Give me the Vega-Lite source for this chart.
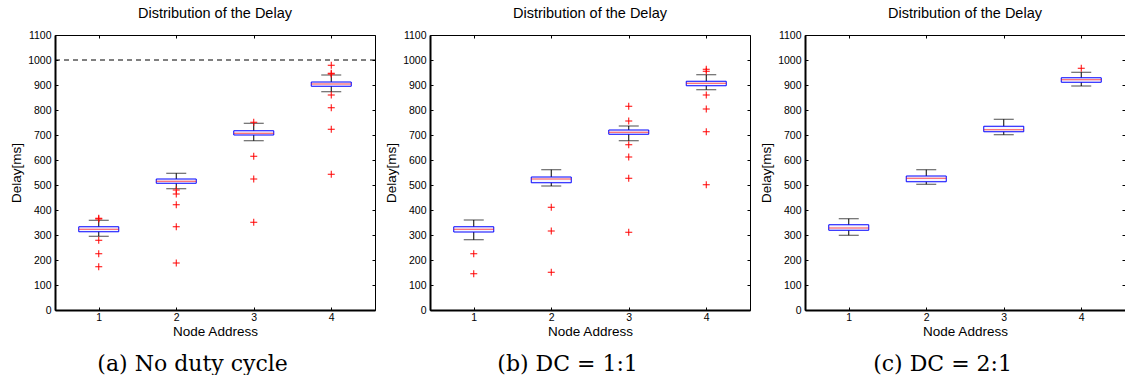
{
  "$schema": "https://vega.github.io/schema/vega-lite/v6.json",
  "padding": {"left": 9, "top": 5, "right": 0, "bottom": 0},
  "background": "white",
  "datasets": {
    "boxes": [
      {"panel": "a", "node": 1, "lo": 295, "q1": 313, "med": 323, "q3": 333, "hi": 359},
      {"panel": "a", "node": 2, "lo": 485, "q1": 507, "med": 515, "q3": 524, "hi": 547},
      {"panel": "a", "node": 3, "lo": 677, "q1": 700, "med": 707, "q3": 717, "hi": 747},
      {"panel": "a", "node": 4, "lo": 873, "q1": 895, "med": 904, "q3": 912, "hi": 940},
      {"panel": "b", "node": 1, "lo": 281, "q1": 312, "med": 323, "q3": 333, "hi": 360},
      {"panel": "b", "node": 2, "lo": 496, "q1": 509, "med": 524, "q3": 532, "hi": 561},
      {"panel": "b", "node": 3, "lo": 677, "q1": 703, "med": 711, "q3": 720, "hi": 736},
      {"panel": "b", "node": 4, "lo": 881, "q1": 897, "med": 907, "q3": 915, "hi": 941},
      {"panel": "c", "node": 1, "lo": 299, "q1": 319, "med": 328, "q3": 341, "hi": 365},
      {"panel": "c", "node": 2, "lo": 503, "q1": 513, "med": 527, "q3": 536, "hi": 561},
      {"panel": "c", "node": 3, "lo": 701, "q1": 713, "med": 721, "q3": 735, "hi": 763},
      {"panel": "c", "node": 4, "lo": 896, "q1": 911, "med": 921, "q3": 929, "hi": 951}
    ],
    "outliers": [
      {"panel": "a", "node": 1, "delay": 367}, {"panel": "a", "node": 1, "delay": 364},
      {"panel": "a", "node": 1, "delay": 279}, {"panel": "a", "node": 1, "delay": 225},
      {"panel": "a", "node": 1, "delay": 173},
      {"panel": "a", "node": 2, "delay": 480}, {"panel": "a", "node": 2, "delay": 464},
      {"panel": "a", "node": 2, "delay": 421}, {"panel": "a", "node": 2, "delay": 333},
      {"panel": "a", "node": 2, "delay": 188},
      {"panel": "a", "node": 3, "delay": 751}, {"panel": "a", "node": 3, "delay": 615},
      {"panel": "a", "node": 3, "delay": 524}, {"panel": "a", "node": 3, "delay": 351},
      {"panel": "a", "node": 4, "delay": 979}, {"panel": "a", "node": 4, "delay": 947},
      {"panel": "a", "node": 4, "delay": 944}, {"panel": "a", "node": 4, "delay": 860},
      {"panel": "a", "node": 4, "delay": 809}, {"panel": "a", "node": 4, "delay": 723},
      {"panel": "a", "node": 4, "delay": 543},
      {"panel": "b", "node": 1, "delay": 225}, {"panel": "b", "node": 1, "delay": 145},
      {"panel": "b", "node": 2, "delay": 411}, {"panel": "b", "node": 2, "delay": 316},
      {"panel": "b", "node": 2, "delay": 151},
      {"panel": "b", "node": 3, "delay": 815}, {"panel": "b", "node": 3, "delay": 756},
      {"panel": "b", "node": 3, "delay": 661}, {"panel": "b", "node": 3, "delay": 612},
      {"panel": "b", "node": 3, "delay": 527}, {"panel": "b", "node": 3, "delay": 311},
      {"panel": "b", "node": 4, "delay": 963}, {"panel": "b", "node": 4, "delay": 955},
      {"panel": "b", "node": 4, "delay": 860}, {"panel": "b", "node": 4, "delay": 804},
      {"panel": "b", "node": 4, "delay": 713}, {"panel": "b", "node": 4, "delay": 501},
      {"panel": "c", "node": 4, "delay": 967}
    ],
    "limit": [{"delay": 1000}]
  },
  "hconcat": [
    {
      "title": {"text": "(a) No duty cycle", "orient": "bottom", "font": "DejaVu Serif", "fontSize": 22, "fontWeight": "normal", "offset": 15, "anchor": "middle"},
      "vconcat": [
        {
          "width": 320, "height": 275,
          "title": {"text": "Distribution of the Delay"},
          "resolve": {"axis": {"x": "independent", "y": "independent"}},
          "layer": [
            {
              "data": {"name": "boxes"}, "transform": [{"filter": "datum.panel == 'a'"}],
              "mark": {"type": "rule", "color": "black", "strokeWidth": 1},
              "encoding": {
                "x": {"field": "node", "type": "quantitative", "scale": {"domain": [0.5, 4.5], "nice": false},
                      "axis": {"orient": "bottom", "title": "Node Address", "values": [1, 2, 3, 4], "format": "d", "tickSize": -3, "labelPadding": 5, "titlePadding": 2, "domainWidth": 2}},
                "y": {"field": "lo", "type": "quantitative", "scale": {"domain": [0, 1100], "nice": false},
                      "axis": {"orient": "left", "title": "Delay[ms]", "values": [0, 100, 200, 300, 400, 500, 600, 700, 800, 900, 1000, 1100], "format": "d", "tickSize": -3, "labelPadding": 7, "domainWidth": 2}},
                "y2": {"field": "hi"}
              }
            },
            {
              "data": {"name": "boxes"}, "transform": [{"filter": "datum.panel == 'a'"}],
              "mark": {"type": "tick", "orient": "horizontal", "size": 20, "thickness": 1, "color": "black"},
              "encoding": {
                "x": {"field": "node", "type": "quantitative", "axis": {"orient": "top", "title": null, "labels": false, "domain": false, "values": [1, 2, 3, 4], "tickSize": -3}},
                "y": {"field": "lo", "type": "quantitative", "axis": {"orient": "right", "title": null, "labels": false, "domain": false, "values": [0, 100, 200, 300, 400, 500, 600, 700, 800, 900, 1000, 1100], "tickSize": -3}}
              }
            },
            {
              "data": {"name": "boxes"}, "transform": [{"filter": "datum.panel == 'a'"}],
              "mark": {"type": "tick", "orient": "horizontal", "size": 20, "thickness": 1, "color": "black"},
              "encoding": {
                "x": {"field": "node", "type": "quantitative", "axis": null},
                "y": {"field": "hi", "type": "quantitative", "axis": null}
              }
            },
            {
              "data": {"name": "boxes"}, "transform": [{"filter": "datum.panel == 'a'"}],
              "mark": {"type": "bar", "orient": "vertical", "size": 40, "fill": "#f6f6ff", "stroke": "#0000ff", "strokeWidth": 1},
              "encoding": {
                "x": {"field": "node", "type": "quantitative", "axis": null},
                "y": {"field": "q1", "type": "quantitative", "axis": null},
                "y2": {"field": "q3"}
              }
            },
            {
              "data": {"name": "boxes"}, "transform": [{"filter": "datum.panel == 'a'"}],
              "mark": {"type": "tick", "orient": "horizontal", "size": 40, "thickness": 1, "color": "#ff0000"},
              "encoding": {
                "x": {"field": "node", "type": "quantitative", "axis": null},
                "y": {"field": "med", "type": "quantitative", "axis": null}
              }
            },
            {
              "data": {"name": "outliers"}, "transform": [{"filter": "datum.panel == 'a'"}],
              "mark": {"type": "point", "shape": "M-1,0L1,0M0,-1L0,1", "size": 49, "filled": false, "stroke": "#ff0000", "strokeWidth": 1, "opacity": 1},
              "encoding": {
                "x": {"field": "node", "type": "quantitative", "axis": null},
                "y": {"field": "delay", "type": "quantitative", "axis": null}
              }
            },
            {
              "data": {"name": "limit"},
              "mark": {"type": "rule", "color": "black", "strokeDash": [5, 4], "strokeWidth": 1},
              "encoding": {"y": {"field": "delay", "type": "quantitative", "axis": null}}
            }
          ]
        }
      ]
    },
    {
      "title": {"text": "(b) DC = 1:1", "orient": "bottom", "font": "DejaVu Serif", "fontSize": 22, "fontWeight": "normal", "offset": 15, "anchor": "middle"},
      "vconcat": [
        {
          "width": 320, "height": 275,
          "title": {"text": "Distribution of the Delay"},
          "resolve": {"axis": {"x": "independent", "y": "independent"}},
          "layer": [
            {
              "data": {"name": "boxes"}, "transform": [{"filter": "datum.panel == 'b'"}],
              "mark": {"type": "rule", "color": "black", "strokeWidth": 1},
              "encoding": {
                "x": {"field": "node", "type": "quantitative", "scale": {"domain": [0.5, 4.5], "nice": false},
                      "axis": {"orient": "bottom", "title": "Node Address", "values": [1, 2, 3, 4], "format": "d", "tickSize": -3, "labelPadding": 5, "titlePadding": 2, "domainWidth": 2}},
                "y": {"field": "lo", "type": "quantitative", "scale": {"domain": [0, 1100], "nice": false},
                      "axis": {"orient": "left", "title": "Delay[ms]", "values": [0, 100, 200, 300, 400, 500, 600, 700, 800, 900, 1000, 1100], "format": "d", "tickSize": -3, "labelPadding": 7, "domainWidth": 2}},
                "y2": {"field": "hi"}
              }
            },
            {
              "data": {"name": "boxes"}, "transform": [{"filter": "datum.panel == 'b'"}],
              "mark": {"type": "tick", "orient": "horizontal", "size": 20, "thickness": 1, "color": "black"},
              "encoding": {
                "x": {"field": "node", "type": "quantitative", "axis": {"orient": "top", "title": null, "labels": false, "domain": false, "values": [1, 2, 3, 4], "tickSize": -3}},
                "y": {"field": "lo", "type": "quantitative", "axis": {"orient": "right", "title": null, "labels": false, "domain": false, "values": [0, 100, 200, 300, 400, 500, 600, 700, 800, 900, 1000, 1100], "tickSize": -3}}
              }
            },
            {
              "data": {"name": "boxes"}, "transform": [{"filter": "datum.panel == 'b'"}],
              "mark": {"type": "tick", "orient": "horizontal", "size": 20, "thickness": 1, "color": "black"},
              "encoding": {
                "x": {"field": "node", "type": "quantitative", "axis": null},
                "y": {"field": "hi", "type": "quantitative", "axis": null}
              }
            },
            {
              "data": {"name": "boxes"}, "transform": [{"filter": "datum.panel == 'b'"}],
              "mark": {"type": "bar", "orient": "vertical", "size": 40, "fill": "#f6f6ff", "stroke": "#0000ff", "strokeWidth": 1},
              "encoding": {
                "x": {"field": "node", "type": "quantitative", "axis": null},
                "y": {"field": "q1", "type": "quantitative", "axis": null},
                "y2": {"field": "q3"}
              }
            },
            {
              "data": {"name": "boxes"}, "transform": [{"filter": "datum.panel == 'b'"}],
              "mark": {"type": "tick", "orient": "horizontal", "size": 40, "thickness": 1, "color": "#ff0000"},
              "encoding": {
                "x": {"field": "node", "type": "quantitative", "axis": null},
                "y": {"field": "med", "type": "quantitative", "axis": null}
              }
            },
            {
              "data": {"name": "outliers"}, "transform": [{"filter": "datum.panel == 'b'"}],
              "mark": {"type": "point", "shape": "M-1,0L1,0M0,-1L0,1", "size": 49, "filled": false, "stroke": "#ff0000", "strokeWidth": 1, "opacity": 1},
              "encoding": {
                "x": {"field": "node", "type": "quantitative", "axis": null},
                "y": {"field": "delay", "type": "quantitative", "axis": null}
              }
            }
          ]
        }
      ]
    },
    {
      "title": {"text": "(c) DC = 2:1", "orient": "bottom", "font": "DejaVu Serif", "fontSize": 22, "fontWeight": "normal", "offset": 15, "anchor": "middle"},
      "vconcat": [
        {
          "width": 320, "height": 275,
          "title": {"text": "Distribution of the Delay"},
          "resolve": {"axis": {"x": "independent", "y": "independent"}},
          "layer": [
            {
              "data": {"name": "boxes"}, "transform": [{"filter": "datum.panel == 'c'"}],
              "mark": {"type": "rule", "color": "black", "strokeWidth": 1},
              "encoding": {
                "x": {"field": "node", "type": "quantitative", "scale": {"domain": [0.5, 4.5], "nice": false},
                      "axis": {"orient": "bottom", "title": "Node Address", "values": [1, 2, 3, 4], "format": "d", "tickSize": -3, "labelPadding": 5, "titlePadding": 2, "domainWidth": 2}},
                "y": {"field": "lo", "type": "quantitative", "scale": {"domain": [0, 1100], "nice": false},
                      "axis": {"orient": "left", "title": "Delay[ms]", "values": [0, 100, 200, 300, 400, 500, 600, 700, 800, 900, 1000, 1100], "format": "d", "tickSize": -3, "labelPadding": 7, "domainWidth": 2}},
                "y2": {"field": "hi"}
              }
            },
            {
              "data": {"name": "boxes"}, "transform": [{"filter": "datum.panel == 'c'"}],
              "mark": {"type": "tick", "orient": "horizontal", "size": 20, "thickness": 1, "color": "black"},
              "encoding": {
                "x": {"field": "node", "type": "quantitative", "axis": {"orient": "top", "title": null, "labels": false, "domain": false, "values": [1, 2, 3, 4], "tickSize": -3}},
                "y": {"field": "lo", "type": "quantitative", "axis": {"orient": "right", "title": null, "labels": false, "domain": false, "values": [0, 100, 200, 300, 400, 500, 600, 700, 800, 900, 1000, 1100], "tickSize": -3}}
              }
            },
            {
              "data": {"name": "boxes"}, "transform": [{"filter": "datum.panel == 'c'"}],
              "mark": {"type": "tick", "orient": "horizontal", "size": 20, "thickness": 1, "color": "black"},
              "encoding": {
                "x": {"field": "node", "type": "quantitative", "axis": null},
                "y": {"field": "hi", "type": "quantitative", "axis": null}
              }
            },
            {
              "data": {"name": "boxes"}, "transform": [{"filter": "datum.panel == 'c'"}],
              "mark": {"type": "bar", "orient": "vertical", "size": 40, "fill": "#f6f6ff", "stroke": "#0000ff", "strokeWidth": 1},
              "encoding": {
                "x": {"field": "node", "type": "quantitative", "axis": null},
                "y": {"field": "q1", "type": "quantitative", "axis": null},
                "y2": {"field": "q3"}
              }
            },
            {
              "data": {"name": "boxes"}, "transform": [{"filter": "datum.panel == 'c'"}],
              "mark": {"type": "tick", "orient": "horizontal", "size": 40, "thickness": 1, "color": "#ff0000"},
              "encoding": {
                "x": {"field": "node", "type": "quantitative", "axis": null},
                "y": {"field": "med", "type": "quantitative", "axis": null}
              }
            },
            {
              "data": {"name": "outliers"}, "transform": [{"filter": "datum.panel == 'c'"}],
              "mark": {"type": "point", "shape": "M-1,0L1,0M0,-1L0,1", "size": 49, "filled": false, "stroke": "#ff0000", "strokeWidth": 1, "opacity": 1},
              "encoding": {
                "x": {"field": "node", "type": "quantitative", "axis": null},
                "y": {"field": "delay", "type": "quantitative", "axis": null}
              }
            }
          ]
        }
      ]
    }
  ],
  "spacing": 8,
  "config": {
    "font": "Liberation Sans",
    "view": {"stroke": "black", "strokeWidth": 1},
    "title": {"font": "Liberation Sans", "fontSize": 14.5, "fontWeight": "normal", "color": "black", "offset": 9},
    "concat": {"spacing": 0},
    "axis": {
      "grid": false,
      "domainColor": "black",
      "tickColor": "black",
      "labelColor": "black",
      "titleColor": "black",
      "labelFont": "Liberation Sans",
      "labelFontSize": 10.5,
      "titleFont": "Liberation Sans",
      "titleFontSize": 13.5,
      "titleFontWeight": "normal",
      "titlePadding": 4
    }
  }
}
